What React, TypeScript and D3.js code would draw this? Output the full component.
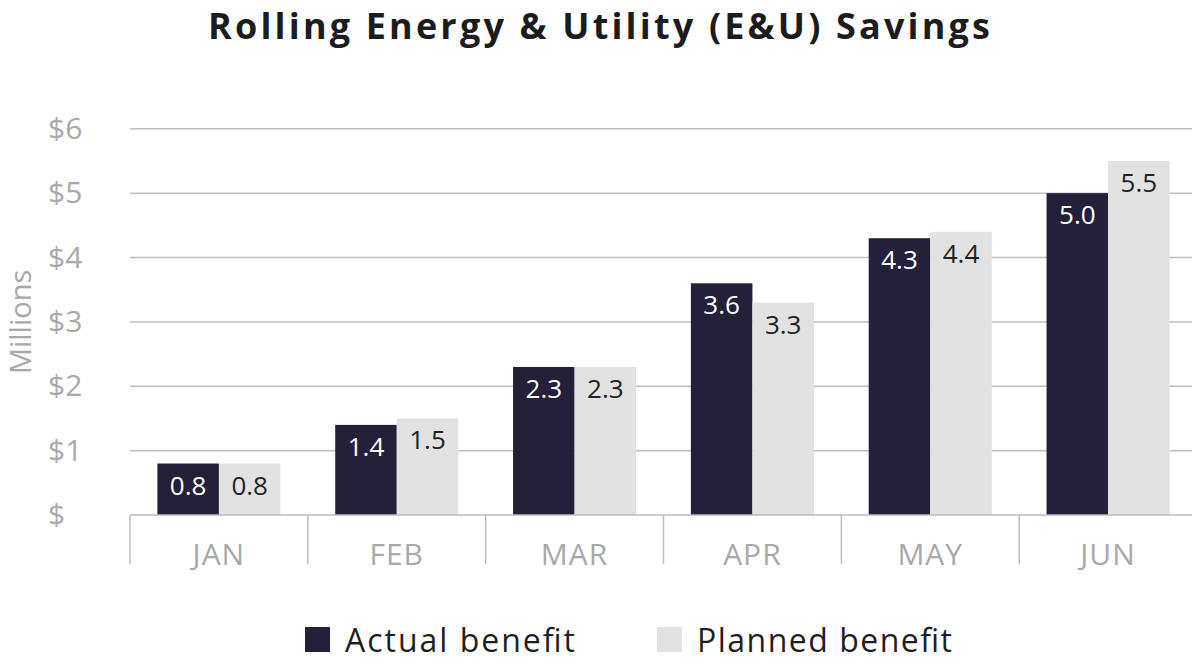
import React from "react";
import * as d3 from "d3";

const categories = ["JAN", "FEB", "MAR", "APR", "MAY", "JUN"];
const actualBenefit = [0.8, 1.4, 2.3, 3.6, 4.3, 5.0];
const plannedBenefit = [0.8, 1.5, 2.3, 3.3, 4.4, 5.5];
const seriesNames = ["Actual benefit", "Planned benefit"];
const yTicks = [0, 1, 2, 3, 4, 5, 6];
const yTickLabels = ["$", "$1", "$2", "$3", "$4", "$5", "$6"];
const title = "Rolling Energy & Utility (E&U) Savings";
const yAxisTitle = "Millions";

const W = 1200;
const H = 670;
const FONT = "'Open Sans', Lato, sans-serif";
const COLORS = ["#24203a", "#e2e2e2"];
const LABEL_COLORS = ["#ffffff", "#222222"];

export default function App() {
  const left = 130;
  const right = 1197;
  const top = 128.8;
  const bottom = 515;

  const x = d3.scaleBand<string>().domain(categories).range([left, right]).padding(0);
  const sub = d3
    .scaleBand<string>()
    .domain(seriesNames)
    .range([0, x.bandwidth()])
    .paddingInner(0)
    .paddingOuter(0.445);
  const y = d3.scaleLinear().domain([0, 6]).range([bottom, top]);

  const series = [actualBenefit, plannedBenefit];
  const legendX = [305, 657];
  const legendLen = [230, 255];

  return (
    <div style={{ margin: -8 }}>
      <svg width={W} height={H} style={{ display: "block", background: "#fff" }} fontFamily={FONT}>
        <text
          x={208}
          y={39}
          fontSize={36}
          fontWeight={700}
          fill="#1c1c1c"
          textLength={782}
          lengthAdjust="spacing"
        >
          {title}
        </text>

        {yTicks.map((t, i) => (
          <g key={t}>
            {t > 0 && (
              <line x1={left} x2={1195} y1={y(t)} y2={y(t)} stroke="#bdbdbd" strokeWidth={1.5} />
            )}
            <text x={48} y={y(t) + 10} fontSize={30} fill="#a9a9a9">
              {yTickLabels[i]}
            </text>
          </g>
        ))}

        <text
          transform={`translate(31, ${y(3)}) rotate(-90)`}
          textAnchor="middle"
          fontSize={29}
          fill="#a9a9a9"
        >
          {yAxisTitle}
        </text>

        {categories.map((c, ci) => (
          <g key={c}>
            {series.map((vals, si) => {
              const bx = (x(c) as number) + (sub(seriesNames[si]) as number);
              const by = y(vals[ci]);
              return (
                <g key={si}>
                  <rect x={bx} y={by} width={sub.bandwidth()} height={bottom - by} fill={COLORS[si]} />
                  <text
                    x={bx + sub.bandwidth() / 2}
                    y={by + 31}
                    textAnchor="middle"
                    fontSize={26}
                    fill={LABEL_COLORS[si]}
                  >
                    {vals[ci].toFixed(1)}
                  </text>
                </g>
              );
            })}
            <text
              x={(x(c) as number) + x.bandwidth() / 2}
              y={565}
              textAnchor="middle"
              fontSize={30}
              fill="#a9a9a9"
              letterSpacing={1}
            >
              {c}
            </text>
          </g>
        ))}

        <line x1={left} x2={right} y1={bottom} y2={bottom} stroke="#bdbdbd" strokeWidth={1.5} />
        {[...categories.map((c) => x(c) as number), right].map((tx, i) => (
          <line key={i} x1={tx} x2={tx} y1={bottom} y2={564} stroke="#bdbdbd" strokeWidth={1.5} />
        ))}

        {seriesNames.map((s, i) => (
          <g key={s}>
            <rect x={legendX[i]} y={627} width={25} height={25} fill={COLORS[i]} />
            <text
              x={legendX[i] + 40}
              y={652}
              fontSize={32}
              fill="#1f1f1f"
              textLength={legendLen[i]}
              lengthAdjust="spacing"
            >
              {s}
            </text>
          </g>
        ))}
      </svg>
    </div>
  );
}
